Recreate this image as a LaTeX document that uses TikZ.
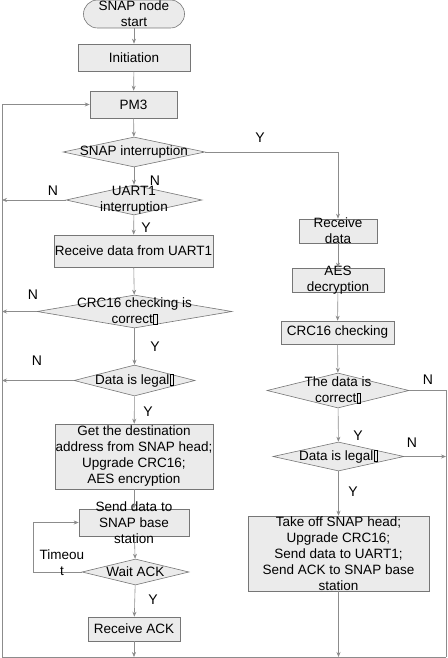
\documentclass[tikz,border=0pt]{standalone}
\usepackage{fontspec}
\setmainfont{Liberation Sans}
\usetikzlibrary{shapes.geometric,arrows.meta}
\definecolor{linec}{HTML}{8C8C8C}
\definecolor{bordc}{HTML}{767676}
\definecolor{fillc}{HTML}{EBEBEB}
\newcommand\tofubox{\kern0.4pt\raisebox{-0.6pt}{\setlength\fboxsep{0pt}\setlength\fboxrule{0.5pt}\fbox{\rule{0pt}{10pt}\hspace{3.2pt}}}}
\tikzset{
  ln/.style={draw=linec, line width=0.6pt},
  arr/.style={ln, -{Stealth[length=5pt,width=4pt]}},
  boxs/.style={draw=bordc, fill=fillc, line width=0.6pt, inner sep=0pt, rectangle},
  dia/.style={draw=bordc, fill=fillc, line width=0.6pt, inner sep=0pt, diamond},
  txt/.style={align=center, inner sep=0pt, font=\fontsize{13.5}{16}\selectfont},
  yn/.style={inner sep=0pt, font=\fontsize{14}{16}\selectfont}
}
\begin{document}
\begin{tikzpicture}[x=1pt,y=-1pt]
\useasboundingbox (0,0) rectangle (447,658);
% left column
\node[boxs, rounded corners=14pt, minimum width=101, minimum height=28,
      label={[txt]center:{SNAP node\\start}}] (start) at (134,14) {};
\node[boxs, minimum width=112, minimum height=27, label={[txt]center:Initiation}] (init) at (134,57.5) {};
\node[boxs, minimum width=87, minimum height=27, label={[txt]center:PM3}] (pm3) at (133.5,104.5) {};
\node[dia, minimum width=142, minimum height=30, label={[txt]center:SNAP interruption}] (snapint) at (134,152) {};
\node[dia, minimum width=136, minimum height=30, label={[txt]center:{UART1\\interruption}}] (uart) at (134,200) {};
\node[boxs, minimum width=159, minimum height=32, label={[txt]center:Receive data from UART1}] (recv1) at (133.5,251) {};
\node[dia, minimum width=195, minimum height=33, label={[txt]center:{CRC16 checking is\\correct\tofubox}}] (crc1) at (134.5,311.5) {};
\node[dia, minimum width=121, minimum height=31, label={[txt]center:{Data is legal\tofubox}}] (legal1) at (134.5,380.5) {};
\node[boxs, minimum width=158, minimum height=65,
      label={[txt]center:{Get the destination\\address from SNAP head;\\Upgrade CRC16;\\AES encryption}}] (dest) at (134,456.5) {};
\node[boxs, minimum width=110, minimum height=27, label={[txt]center:{Send data to\\SNAP base\\station}}] (send) at (134,522.5) {};
\node[dia, minimum width=107, minimum height=26, label={[txt]center:Wait ACK}] (wait) at (135.5,572) {};
\node[boxs, minimum width=92, minimum height=24, label={[txt]center:Receive ACK}] (rack) at (134,629) {};
% right column
\node[boxs, minimum width=78, minimum height=24, label={[txt]center:{Receive\\data}}] (rdata) at (338,231) {};
\node[boxs, minimum width=92, minimum height=24, label={[txt]center:{AES\\decryption}}] (aes) at (338,280) {};
\node[boxs, minimum width=113, minimum height=23, label={[txt]center:CRC16 checking}] (crc2) at (337.5,332.5) {};
\node[dia, minimum width=142, minimum height=35, label={[txt]center:{The data is\\correct\tofubox}}] (dcorr) at (338,390.5) {};
\node[dia, minimum width=131, minimum height=29, label={[txt]center:{Data is legal\tofubox}}] (legal2) at (338.5,456.5) {};
\node[boxs, minimum width=181, minimum height=75,
      label={[txt]center:{Take off SNAP head;\\Upgrade CRC16;\\Send data to UART1;\\Send ACK to SNAP base\\station}}] (take) at (338.5,553.5) {};
% frame coordinates
\coordinate (tl) at (2,104.5);
\coordinate (bl) at (2,657);
\coordinate (br) at (446,657);
\coordinate (rc) at (446,390.5);
\coordinate (rl) at (446,456.5);
\coordinate (snapc) at (338,152);
\coordinate (loopb) at (33,572);
\coordinate (loopt) at (33,522.5);
\coordinate (uN) at (2,200);
\coordinate (cN) at (2,311.5);
\coordinate (lN) at (2,380.5);
\coordinate (rackb) at (134,657);
\coordinate (takeb) at (338.5,657);
% connectors
\draw[arr] (start) -- (init);
\draw[arr] (init) -- (pm3);
\draw[arr] (pm3) -- (snapint);
\draw[arr] (snapint) -- (uart);
\draw[arr] (uart) -- (recv1);
\draw[arr] (recv1) -- (crc1);
\draw[arr] (crc1) -- (legal1);
\draw[arr] (legal1) -- (dest);
\draw[arr] (dest) -- (send);
\draw[arr] (send) -- (wait);
\draw[arr] (wait) -- (rack);
\draw[arr] (wait.west) -- (loopb) -- (loopt) -- (send.west);
\draw[arr] (rack) -- (rackb);
\draw[arr] (uart.west) -- (uN);
\draw[arr] (crc1.west) -- (cN);
\draw[arr] (legal1.west) -- (lN);
\draw[ln] (br) -- (bl) -- (tl);
\draw[arr] (tl) -- (pm3.west);
\draw[arr] (snapint.east) -- (snapc) -- (rdata.north);
\draw[arr] (rdata) -- (aes);
\draw[arr] (aes) -- (crc2);
\draw[arr] (crc2) -- (dcorr);
\draw[arr] (dcorr) -- (legal2);
\draw[arr] (legal2) -- (take);
\draw[arr] (take) -- (takeb);
\draw[ln] (dcorr.east) -- (rc) -- (br);
\draw[arr] (legal2.east) -- (rl);
% labels
\node[yn] (y1) at (260,138) {Y};
\node[yn] (n1) at (155,180.5) {N};
\node[yn] (n2) at (53,191) {N};
\node[yn] (y2) at (146,228) {Y};
\node[yn] (n3) at (33,295) {N};
\node[yn] (y3) at (155,347) {Y};
\node[yn] (n4) at (37,361) {N};
\node[yn] (y4) at (148,412) {Y};
\node[txt] (to) at (62,562.5) {Timeou\\t};
\node[yn] (y5) at (153,600) {Y};
\node[yn] (n5) at (428,380) {N};
\node[yn] (y6) at (358,436) {Y};
\node[yn] (n6) at (412,443) {N};
\node[yn] (y7) at (353,492) {Y};
\end{tikzpicture}
\end{document}
